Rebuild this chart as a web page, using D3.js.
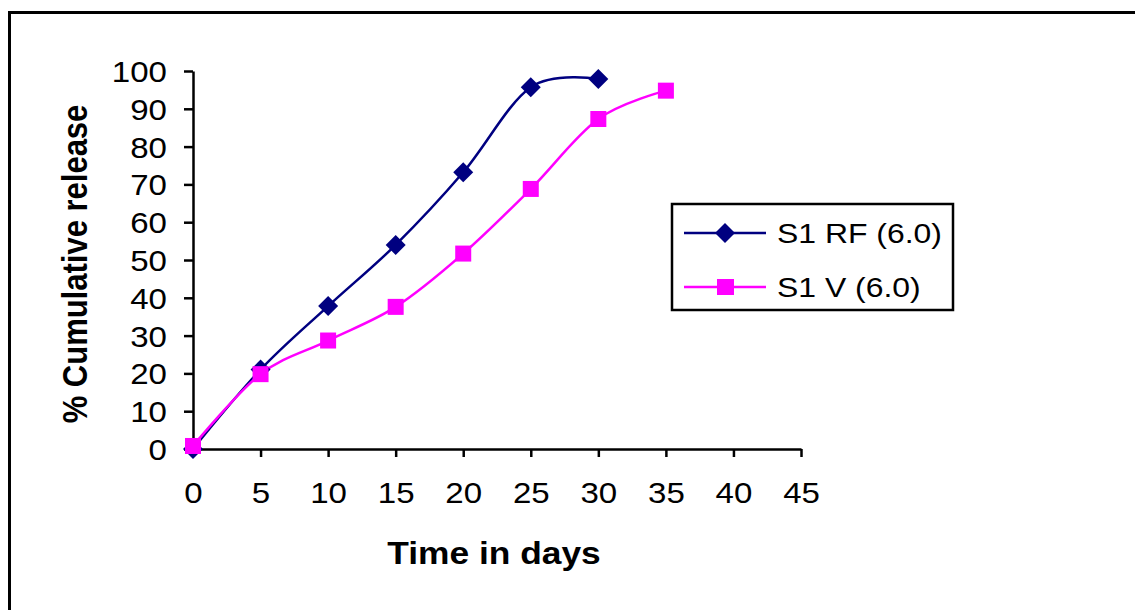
<!DOCTYPE html>
<html><head><meta charset="utf-8">
<script src="https://cdn.jsdelivr.net/npm/d3@7"></script>
<style>
html,body{margin:0;padding:0;background:#fff;}
svg{display:block;}
text{font-family:"Liberation Sans",Arial,sans-serif;fill:#000;}
</style></head>
<body>
<svg id="c" width="1135" height="610"></svg>
<script>
const days = [0, 5, 10, 15, 20, 25, 30, 35];
const rfValues = [0, 21, 37.8, 54, 73.2, 95.7, 97.9];
const vValues = [0.8, 19.8, 28.7, 37.6, 51.7, 68.8, 87.3, 94.8];
const seriesNames = ["S1 RF (6.0)", "S1 V (6.0)"];
const xTicks = [0, 5, 10, 15, 20, 25, 30, 35, 40, 45];
const yTicks = [0, 10, 20, 30, 40, 50, 60, 70, 80, 90, 100];
const xTitle = "Time in days";
const yTitle = "% Cumulative release";

const SX = 1.14; // horizontal stretch of the original picture's text
const svg = d3.select("#c");
// outer frame (top and left edges visible)
svg.append("line").attr("x1",9.5).attr("x2",1135).attr("y1",12.5).attr("y2",12.5).attr("stroke","#000").attr("stroke-width",3);
svg.append("line").attr("x1",9.5).attr("x2",9.5).attr("y1",11).attr("y2",610).attr("stroke","#000").attr("stroke-width",3);

const x = d3.scaleLinear().domain([0,45]).range([193,801]);
const y = d3.scaleLinear().domain([0,100]).range([449,71]);

const xAxis = svg.append("g").attr("transform","translate(0,449)")
  .call(d3.axisBottom(x).tickValues(xTicks).tickSize(8).tickSizeOuter(0).tickPadding(25));
const yAxis = svg.append("g").attr("transform","translate(193,0)")
  .call(d3.axisLeft(y).tickValues(yTicks).tickSize(9).tickSizeOuter(0));
[xAxis,yAxis].forEach(a=>{
  a.select(".domain").attr("stroke","#000").attr("stroke-width",2.5);
  a.selectAll(".tick line").attr("stroke","#000").attr("stroke-width",2.5);
  a.selectAll(".tick text").attr("font-size",29).attr("font-family","Liberation Sans, Arial, sans-serif").attr("fill","#000");
});
xAxis.selectAll(".tick text").attr("dy","0.71em").attr("transform",`scale(${SX},1)`);
yAxis.selectAll(".tick text").attr("dy","0.36em").attr("x",-26/SX).attr("transform",`scale(${SX},1)`);

svg.append("text").attr("transform",`translate(494,564) scale(${SX},1)`).attr("text-anchor","middle")
  .attr("font-size",31).attr("font-weight","bold").text(xTitle);
svg.append("text").attr("transform",`translate(87,264) scale(${SX},1) rotate(-90)`).attr("text-anchor","middle")
  .attr("font-size",31).attr("font-weight","bold").text(yTitle);

const line = d3.line().curve(d3.curveCardinal.tension(0)).x(d=>x(d[0])).y(d=>y(d[1]));
const rfData = rfValues.map((v,i)=>[days[i],v]);
const vData = vValues.map((v,i)=>[days[i],v]);
const navy = "#000080", mag = "#FF00FF";

svg.append("path").attr("d",line(rfData)).attr("fill","none").attr("stroke",navy).attr("stroke-width",2.5);
svg.append("path").attr("d",line(vData)).attr("fill","none").attr("stroke",mag).attr("stroke-width",2.5);

function diamondPath(s){ return `M0,${-s}L${s},0L0,${s}L${-s},0Z`; }
svg.append("g").selectAll("path").data(rfData).join("path")
  .attr("transform",d=>`translate(${x(d[0])},${y(d[1])})`)
  .attr("d",diamondPath(10)).attr("fill",navy);
svg.append("g").selectAll("rect").data(vData).join("rect")
  .attr("x",d=>x(d[0])-8).attr("y",d=>y(d[1])-8).attr("width",16).attr("height",16).attr("fill",mag);

// legend
const lg = svg.append("g");
lg.append("rect").attr("x",672).attr("y",204).attr("width",281).attr("height",106)
  .attr("fill","#fff").attr("stroke","#000").attr("stroke-width",2.5);
const rows = [{name:seriesNames[0],color:navy,y:233},{name:seriesNames[1],color:mag,y:287}];
rows.forEach((r,i)=>{
  lg.append("line").attr("x1",684).attr("x2",766).attr("y1",r.y).attr("y2",r.y).attr("stroke",r.color).attr("stroke-width",2.5);
  if(i===0) lg.append("path").attr("transform",`translate(725,${r.y})`).attr("d",diamondPath(10)).attr("fill",r.color);
  else lg.append("rect").attr("x",717).attr("y",r.y-8).attr("width",17).attr("height",16).attr("fill",r.color);
  lg.append("text").attr("transform",`translate(777,${r.y}) scale(${SX},1)`).attr("dy","0.36em").attr("font-size",28).text(r.name);
});
</script>
</body></html>
